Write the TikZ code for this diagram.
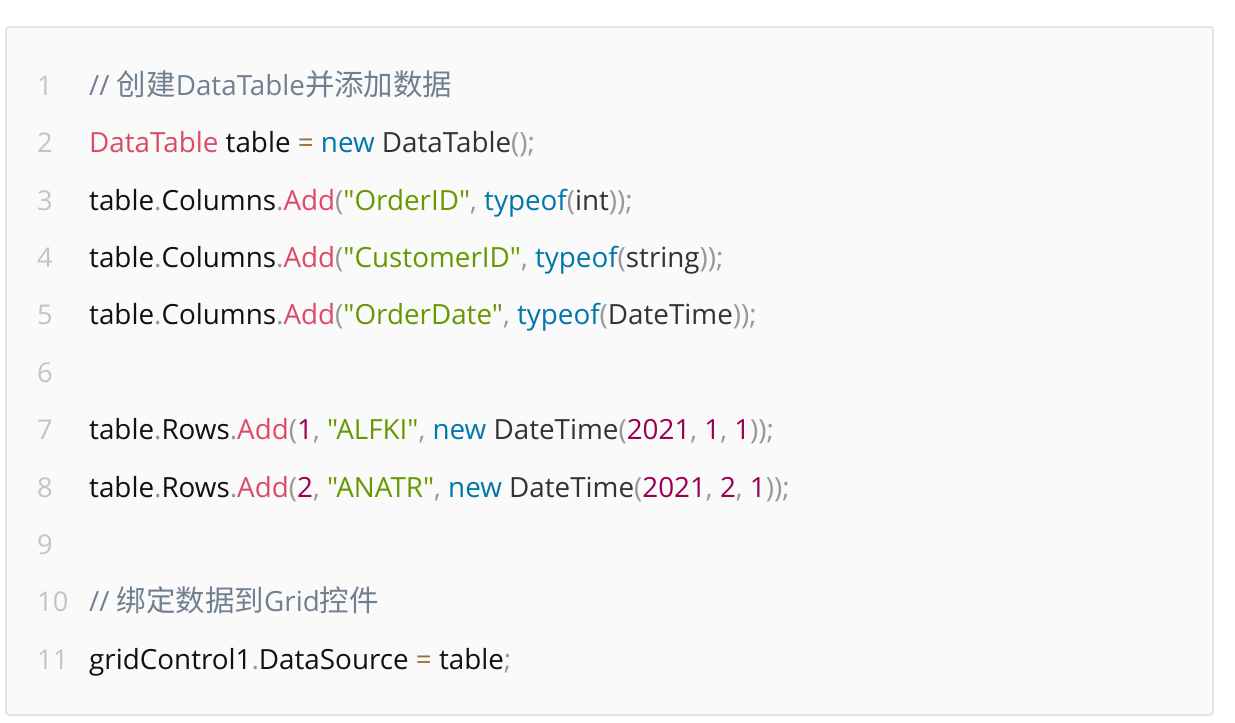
\documentclass[tikz,border=0pt]{standalone}
\usepackage{fontspec}
\setmainfont{Open Sans}
\newfontfamily\codefont{Open Sans}
\newfontfamily\cjk{Noto Sans CJK SC}[Scale=1.06]
\definecolor{cmt}{HTML}{708090}
\definecolor{fnc}{HTML}{DD4A68}
\definecolor{kwd}{HTML}{0077AA}
\definecolor{strc}{HTML}{669900}
\definecolor{numc}{HTML}{990055}
\definecolor{punc}{HTML}{999999}
\definecolor{opc}{HTML}{9A6E3A}
\definecolor{plain}{HTML}{111111}
\definecolor{plaintwo}{HTML}{333333}
\definecolor{lnum}{HTML}{C4C4C4}
\definecolor{boxfill}{HTML}{FAFAFA}
\definecolor{boxline}{HTML}{E0E0E0}
\newcommand\cCm[1]{\textcolor{cmt}{#1}}
\newcommand\cFn[1]{\textcolor{fnc}{#1}}
\newcommand\cKw[1]{\textcolor{kwd}{#1}}
\newcommand\cSt[1]{\textcolor{strc}{#1}}
\newcommand\cNm[1]{\textcolor{numc}{#1}}
\newcommand\cPn[1]{\textcolor{punc}{#1}}
\newcommand\cOp[1]{\textcolor{opc}{#1}}
\newcommand\cTx[1]{\textcolor{plaintwo}{#1}}
\begin{document}
\begin{tikzpicture}[x=1pt,y=-1pt,
  codeline/.style={anchor=base west,inner sep=0pt,font=\codefont\fontsize{27.8}{30}\selectfont,text=plain},
  numline/.style={anchor=base west,inner sep=0pt,font=\codefont\fontsize{27.2}{30}\selectfont,text=lnum}]
\useasboundingbox (0,0) rectangle (1235,723);
\fill[white] (0,0) rectangle (1235,723);
\draw[boxline,fill=boxfill,line width=1.5pt,rounded corners=3pt] (6,27) rectangle (1213,715);
\foreach \i in {1,...,11}{
  \node[numline] (n\i) at (37,{95.3+57.4*(\i-1)}) {\i};
}
\node[codeline] (l1) at (89,95.3) {\cCm{// {\cjk 创建}DataTable{\cjk 并添加数据}}};
\node[codeline] (l2) at (89,152.7) {\cFn{DataTable} table \cOp{=} \cKw{new} \cTx{DataTable}\cPn{();}};
\node[codeline] (l3) at (89,210.9) {table\cPn{.}Columns\cPn{.}\cFn{Add}\cPn{(}\cSt{"OrderID"}\cPn{,} \cKw{typeof}\cPn{(}\cTx{int}\cPn{));}};
\node[codeline] (l4) at (89,267.5) {table\cPn{.}Columns\cPn{.}\cFn{Add}\cPn{(}\cSt{"CustomerID"}\cPn{,} \cKw{typeof}\cPn{(}\cTx{string}\cPn{));}};
\node[codeline] (l5) at (89,324.9) {table\cPn{.}Columns\cPn{.}\cFn{Add}\cPn{(}\cSt{"OrderDate"}\cPn{,} \cKw{typeof}\cPn{(}\cTx{DateTime}\cPn{));}};
\node[codeline] (l7) at (89,439.7) {table\cPn{.}Rows\cPn{.}\cFn{Add}\cPn{(}\cNm{1}\cPn{,} \cSt{"ALFKI"}\cPn{,} \cKw{new} \cTx{DateTime}\cPn{(}\cNm{2021}\cPn{,} \cNm{1}\cPn{,} \cNm{1}\cPn{));}};
\node[codeline] (l8) at (89,497.1) {table\cPn{.}Rows\cPn{.}\cFn{Add}\cPn{(}\cNm{2}\cPn{,} \cSt{"ANATR"}\cPn{,} \cKw{new} \cTx{DateTime}\cPn{(}\cNm{2021}\cPn{,} \cNm{2}\cPn{,} \cNm{1}\cPn{));}};
\node[codeline] (l10) at (89,611.9) {\cCm{// {\cjk 绑定数据到}Grid{\cjk 控件}}};
\node[codeline] (l11) at (89,669.3) {gridControl1\cPn{.}DataSource \cOp{=} table\cPn{;}};
\end{tikzpicture}
\end{document}
